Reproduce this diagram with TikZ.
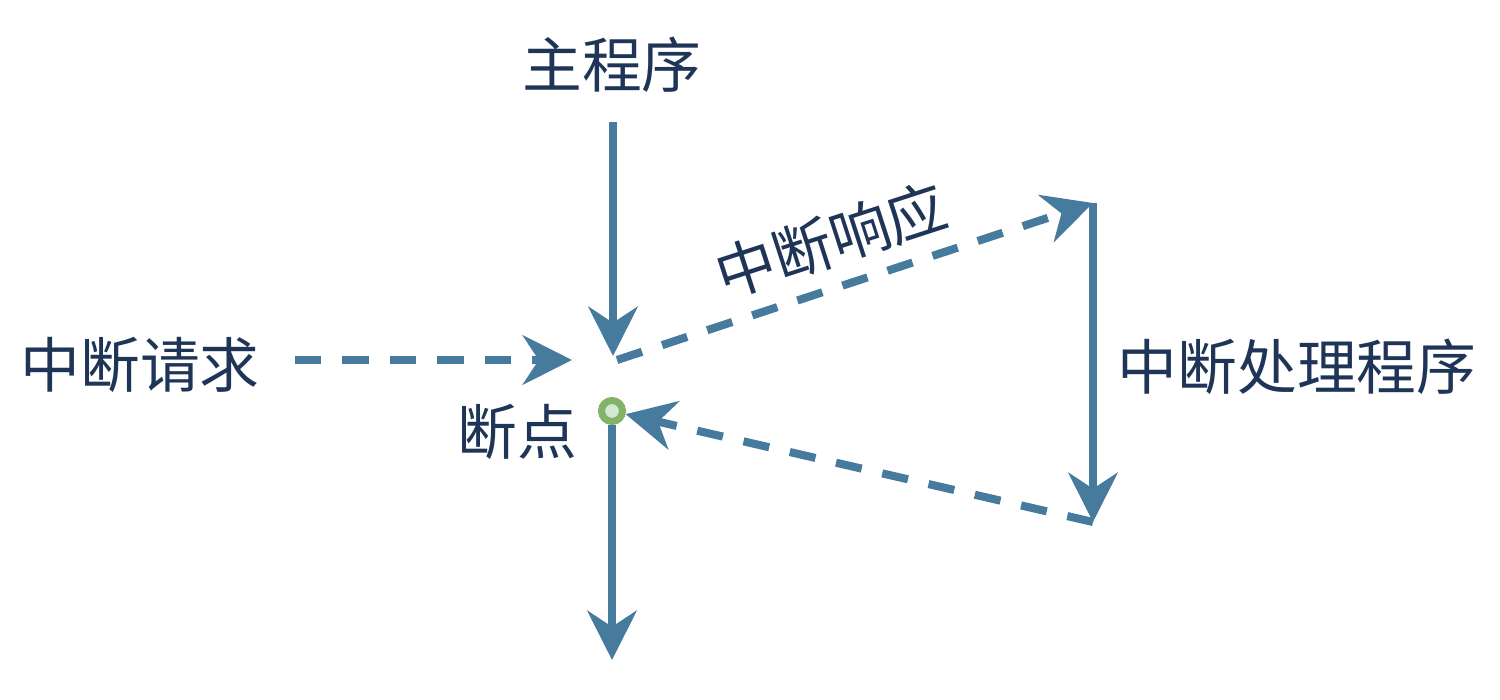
\documentclass[tikz,border=0pt]{standalone}
\usepackage{fontspec}
\setmainfont{Noto Sans CJK SC}
\usetikzlibrary{arrows.meta,positioning}
\definecolor{flow}{HTML}{467B9E}
\definecolor{ink}{HTML}{1F3557}
\definecolor{bpring}{HTML}{82B366}
\definecolor{bpfill}{HTML}{D5E8D4}
\begin{document}
\begin{tikzpicture}[x=0.01cm,y=-0.01cm,>={Stealth[length=14pt,width=14pt]},
  flowline/.style={draw=flow,line width=2.3pt,->},
  dashline/.style={flowline,dash pattern=on 7.5pt off 6pt},
  txt/.style={text=ink,font=\fontsize{17}{20}\selectfont,inner sep=0pt}]
\useasboundingbox (0,0) rectangle (1500,700);
\node[txt] (main) at (612,65) {主程序};
\node[txt] (req) at (140,365) {中断请求};
\node[txt] (isr) at (1297,367) {中断处理程序};
\node[txt] (bplab) at (517,432) {断点};
\node[txt,rotate=18] (resp) at (831,240) {中断响应};
\node[circle,draw=bpring,fill=bpfill,line width=2pt,minimum size=0.21cm,inner sep=0pt] (bp) at (612,411) {};
\coordinate (top) at (613,122);
\coordinate (hit) at (613,356);
\coordinate (reqstart) at (295,360);
\coordinate (reqend) at (572,360);
\coordinate (split) at (617,360);
\coordinate (isrtop) at (1093,203);
\coordinate (isrbot) at (1093,522);
\coordinate (out) at (612,660);
\draw[flowline] (top) -- (hit);
\draw[dashline] (reqstart) -- (reqend);
\draw[dashline] (split) -- (isrtop);
\draw[flowline] (isrtop) -- (isrbot);
\draw[dashline] (isrbot) -- (bp);
\draw[flowline] (bp) -- (out);
\end{tikzpicture}
\end{document}
